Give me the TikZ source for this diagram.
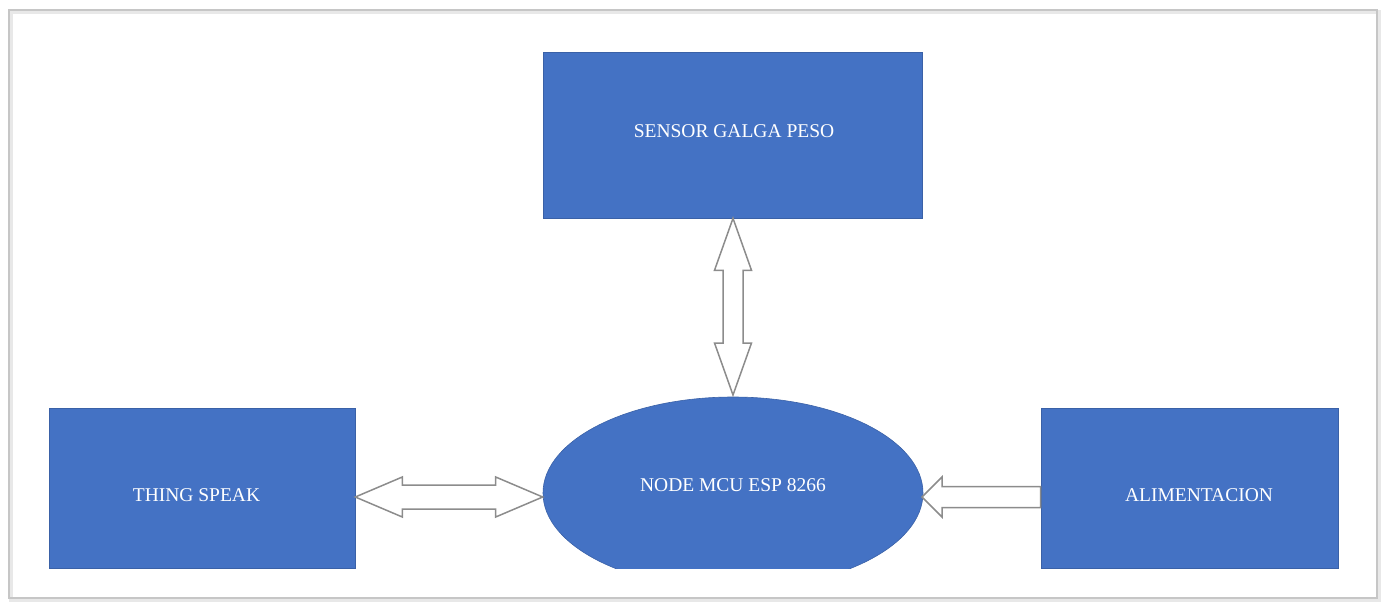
\documentclass[tikz,border=0pt]{standalone}
\usepackage{fontspec}
\setmainfont{Liberation Serif}
\usetikzlibrary{calc,shapes.geometric}
\definecolor{boxblue}{HTML}{4472C4}
\definecolor{arrgray}{HTML}{8C8C8C}
\tikzset{
  blockbox/.style={rectangle, fill=boxblue, draw=boxblue!85!black, line width=0.6pt, inner sep=0pt},
  blocktext/.style={text=white, font=\fontsize{19.5}{22}\selectfont},
  fatarrow/.style={draw=arrgray, fill=white, line width=1.5pt, line join=miter},
}
\begin{document}
\begin{tikzpicture}[x=1pt,y=-1pt]
\useasboundingbox (0,0) rectangle (1385,602);
% frame
\draw[gray!18, line width=4pt] (11,12) rectangle (1379,600);
\draw[gray!45, line width=1.2pt] (9,10) rectangle (1377,598);

% blocks
\node[blockbox, minimum width=379, minimum height=166,
  label={[blocktext, xshift=1pt, yshift=4pt]center:SENSOR GALGA PESO}] (sensor) at (733,135) {};
\node[blockbox, minimum width=306, minimum height=160,
  label={[blocktext, xshift=-5.5pt, yshift=-7pt]center:THING SPEAK}] (thing) at (202,488) {};
\node[blockbox, minimum width=297, minimum height=160,
  label={[blocktext, xshift=9.5pt, yshift=-7pt]center:ALIMENTACION}] (alim) at (1189.5,488) {};

\begin{scope}
  \clip (0,0) rectangle (1385,568);
  \node[ellipse, fill=boxblue, draw=boxblue!85!black, line width=0.6pt, inner sep=0pt,
    minimum width=380, minimum height=192,
    label={[blocktext, yshift=8pt]center:NODE MCU ESP 8266}] (mcu) at (733,493) {};
\end{scope}

% coordinates on the node boundaries
\coordinate (tE) at (thing.east |- 0,497);
\coordinate (mW) at (mcu.west |- 0,497);
\coordinate (mE) at (922,497);
\coordinate (aW) at (alim.west |- 0,497);
\coordinate (sS) at (sensor.south);
\coordinate (mN) at (sensor.south |- 0,395);

% left double arrow
\draw[fatarrow] (tE) -- ++(47,-20) -- ++(0,8) -- ($(mW)+(-47,-12)$) -- ++(0,-8) -- (mW)
  -- ++(-47,20) -- ++(0,-8) -- ($(tE)+(47,12)$) -- ++(0,8) -- cycle;

% vertical double arrow
\draw[fatarrow] (sS) -- ++(18.5,52) -- ++(-8.5,0) -- ($(mN)+(10,-52)$) -- ++(8.5,0) -- (mN)
  -- ++(-18.5,-52) -- ++(8.5,0) -- ($(sS)+(-10,52)$) -- ++(-8.5,0) -- cycle;

% right single arrow
\draw[fatarrow] (mE) -- ++(20,-20) -- ++(0,9.5) -- ($(aW)+(0,-10.5)$) -- ($(aW)+(0,10.5)$)
  -- ($(mE)+(20,10.5)$) -- ++(0,9.5) -- cycle;
\end{tikzpicture}
\end{document}
